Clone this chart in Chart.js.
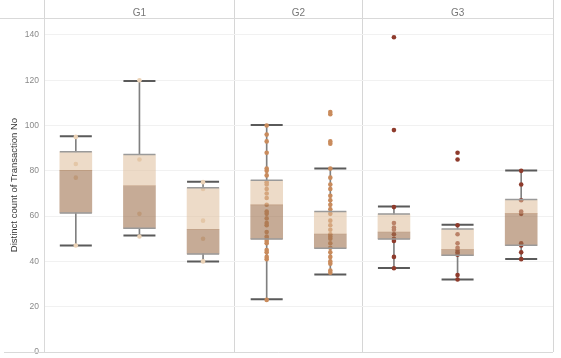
<!DOCTYPE html>
<html><head><meta charset="utf-8">
<script src="https://cdn.jsdelivr.net/npm/chart.js@4/dist/chart.umd.min.js"></script>
<style>html,body{margin:0;padding:0;background:#fff}#wrap{width:561px;height:358px;position:relative}</style>
</head><body><div id="wrap"><canvas id="c"></canvas></div>
<script>
const categories = ['G1-a','G1-b','G1-c','G2-a','G2-b','G3-a','G3-b','G3-c'];
const categoryGroup = [0,0,0,1,1,2,2,2];
const groupLabels = ['G1','G2','G3'];
const groupBounds = [0,3,5,8];
const groupCenters = [1.5,4,6.5];
const whiskerLow  = [47, 51.4, 40, 23.3, 34.2, 37.1, 32, 41.1];
const q1          = [61.4, 54.6, 43.3, 49.9, 45.8, 49.9, 42.7, 47.1];
const median      = [80.2, 73.4, 54.2, 65.0, 52.1, 53.0, 45.2, 61.1];
const q3          = [88.4, 87.2, 72.5, 75.8, 62.0, 60.9, 54.3, 67.4];
const whiskerHigh = [95.3, 119.7, 75.2, 100.3, 81.0, 64.3, 56.2, 80.2];
const yTicks = [0,20,40,60,80,100,120,140];
const pointsG1a = [47, 77, 83, 95];
const pointsG1b = [51, 61, 85, 120];
const pointsG1c = [40, 50, 58, 72, 75];
const pointsG2a = [23, 41, 42, 44, 45, 48, 49, 50, 51, 53, 56, 57, 59, 61, 62, 65, 68, 70, 72, 74, 75, 78, 80, 81, 88, 93, 96, 100];
const pointsG2b = [35, 36, 39, 40, 42, 44, 46, 48, 50, 51, 52, 54, 56, 58, 61, 63, 65, 67, 69, 72, 74, 77, 81, 92, 93, 105, 106];
const pointsG3a = [37, 42, 49, 50, 52, 54, 55, 57, 64, 98, 139];
const pointsG3b = [32, 34, 43, 44, 45, 46, 48, 52, 56, 85, 88];
const pointsG3c = [41, 44, 47, 48, 61, 62, 67, 74, 80];
const pointLists = [pointsG1a, pointsG1b, pointsG1c, pointsG2a, pointsG2b, pointsG3a, pointsG3b, pointsG3c];
const groupPointColors = ['#ebd2b6', '#c98b5c', '#8e3b2c'];

const pointDatasets = groupLabels.map((g, gi) => ({
  type: 'scatter',
  data: categories.flatMap((c, i) => categoryGroup[i] === gi ? pointLists[i].map(v => ({x: c, y: v})) : []),
  backgroundColor: groupPointColors[gi],
  borderWidth: 0,
  pointRadius: 2.3,
  order: 8
}));

const FONT = 'Liberation Sans Narrow, Liberation Sans, Arial, sans-serif';
const frameColor = '#d9d9d9';
const framePlugin = {
  id: 'frame',
  afterDraw(chart) {
    const {ctx, chartArea} = chart;
    ctx.save();
    ctx.strokeStyle = frameColor;
    ctx.lineWidth = 1;
    ctx.beginPath();
    ctx.moveTo(0, Math.round(chartArea.top) + 0.5); ctx.lineTo(chartArea.left, Math.round(chartArea.top) + 0.5);
    ctx.moveTo(4, Math.round(chartArea.bottom) + 0.5); ctx.lineTo(chartArea.right, Math.round(chartArea.bottom) + 0.5);
    ctx.stroke();
    ctx.restore();
  }
};

const whiskerStyle = {type: 'bar', backgroundColor: '#808080', barThickness: 1, grouped: false, order: 10};

new Chart(document.getElementById('c'), {
  type: 'bar',
  data: {
    labels: categories,
    datasets: [
      Object.assign({data: categories.map((c, i) => [whiskerLow[i], q1[i]])}, whiskerStyle),
      Object.assign({data: categories.map((c, i) => [q3[i], whiskerHigh[i]])}, whiskerStyle),
      {
        type: 'scatter',
        data: categories.flatMap((c, i) => [{x: c, y: whiskerLow[i]}, {x: c, y: whiskerHigh[i]}]),
        pointStyle: 'line',
        pointRadius: 16,
        borderColor: '#5a5a5a',
        borderWidth: 2,
        order: 9
      },
      ...pointDatasets,
      {
        type: 'bar',
        data: categories.map((c, i) => [q1[i], median[i]]),
        backgroundColor: 'rgba(160,115,80,0.6)',
        barThickness: 32,
        grouped: false,
        order: 5
      },
      {
        type: 'bar',
        data: categories.map((c, i) => [median[i], q3[i]]),
        backgroundColor: 'rgba(222,190,155,0.55)',
        barThickness: 32,
        grouped: false,
        order: 5
      },
      {
        type: 'scatter',
        data: categories.flatMap((c, i) => [{x: c, y: q1[i]}, {x: c, y: q3[i]}]),
        pointStyle: 'line',
        pointRadius: 16,
        borderColor: '#9a9a9a',
        borderWidth: 1.5,
        order: 4
      }
    ]
  },
  options: {
    responsive: true,
    maintainAspectRatio: false,
    animation: false,
    devicePixelRatio: 1,
    layout: {autoPadding: false, padding: {left: 0, right: 8, top: 0, bottom: 6}},
    plugins: {legend: {display: false}, tooltip: {enabled: false}},
    scales: {
      x: {
        type: 'category',
        offset: true,
        display: false
      },
      xTop: {
        type: 'linear',
        position: 'top',
        offset: false,
        min: 0, max: 8,
        afterBuildTicks: s => {
          const vals = [...groupBounds, ...groupCenters].sort((a, b) => a - b);
          s.ticks = vals.map(v => ({value: v}));
        },
        ticks: {
          autoSkip: false,
          maxRotation: 0,
          padding: -19,
          color: '#777',
          font: {family: FONT, size: 10},
          callback: v => { const k = groupCenters.indexOf(v); return k >= 0 ? groupLabels[k] : ''; }
        },
        grid: {
          offset: false,
          color: ctx => (ctx.tick && groupBounds.includes(ctx.tick.value)) ? '#d6d6d6' : 'rgba(0,0,0,0)',
          tickLength: 18,
          drawTicks: true
        },
        border: {display: true, color: frameColor},
        afterFit: s => { s.height = 18; s.paddingLeft = 0; s.paddingRight = 0; }
      },
      y: {
        min: 0, max: 147.5,
        afterBuildTicks: s => { s.ticks = yTicks.map(v => ({value: v})); },
        ticks: {
          color: '#8a8a8a',
          padding: 5,
          font: {family: 'Liberation Sans, Arial, sans-serif', size: 8.5}
        },
        grid: {color: '#f1f1f1', drawTicks: false},
        border: {display: true, color: frameColor},
        title: {
          display: true,
          text: 'Distinct count of Transaction No',
          color: '#333',
          font: {family: FONT, size: 9.5},
          padding: {top: 9, bottom: 0}
        },
        afterFit: s => { s.width = 44; s.paddingTop = 0; s.paddingBottom = 0; }
      }
    }
  },
  plugins: [framePlugin]
});
</script>
</body></html>
